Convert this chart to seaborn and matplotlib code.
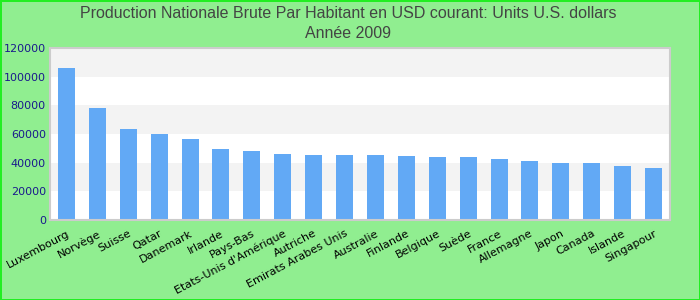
import matplotlib
matplotlib.use("Agg")
import matplotlib.pyplot as plt
import seaborn as sns
import pandas as pd

countries = ["Luxembourg", "Norvège", "Suisse", "Qatar", "Danemark", "Irlande",
             "Pays-Bas", "Etats-Unis d'Amérique", "Autriche", "Emirats Arabes Unis",
             "Australie", "Finlande", "Belgique", "Suède", "France", "Allemagne",
             "Japon", "Canada", "Islande", "Singapour"]
values = [106000, 78000, 63500, 60000, 56500, 49500, 48100, 46000, 45400, 45300,
          45300, 44700, 44000, 43900, 42600, 41200, 39800, 39700, 37700, 36300]
yticks = [0, 20000, 40000, 60000, 80000, 100000, 120000]

df = pd.DataFrame({"pays": countries, "valeur": values})

sns.set_theme(style="white")
plt.rcParams['font.family'] = ['DejaVu Sans']

fig = plt.figure(figsize=(7, 3), dpi=100, facecolor="#90ee90",
                 edgecolor="#22ee22", linewidth=2)
ax = fig.add_axes([50/700, 80/300, 620/700, 172/300])

# alternating bands
for i in range(len(yticks) - 1):
    col = "#ffffff" if i % 2 == 0 else "#f3f3f3"
    ax.axhspan(yticks[i], yticks[i + 1], color=col, zorder=0, lw=0)

sns.barplot(data=df, x="pays", y="valeur", color="#62a9f5", width=0.55,
            saturation=1, ax=ax, zorder=2, linewidth=0)

ax.set_xlim(-0.53, len(countries) - 0.47)
ax.set_ylim(0, 120000)
ax.set_yticks(yticks)
ax.set_yticklabels([str(v) for v in yticks], color="#1a1a8c", fontsize=8)
ax.set_xticks(range(len(countries)))
ax.set_xticklabels(countries, rotation=28, ha="right", va="top",
                   rotation_mode="anchor", fontsize=8, color="black")
ax.tick_params(axis="both", length=0, pad=3)
ax.tick_params(axis="x", pad=6)
ax.set_xlabel("")
ax.set_ylabel("")
for s in ax.spines.values():
    s.set_visible(True)
    s.set_color("#cccccc")
    s.set_linewidth(1.5)

fig.text(0.497, 1 - 13/300, "Production Nationale Brute Par Habitant en USD courant: Units U.S. dollars",
         ha="center", va="center", fontsize=11.5, color="#444444", family="Liberation Sans")
fig.text(0.497, 1 - 33/300, "Année 2009",
         ha="center", va="center", fontsize=11.5, color="#444444", family="Liberation Sans")

fig.savefig("out.png", dpi=100, facecolor=fig.get_facecolor(), edgecolor=fig.get_edgecolor())
